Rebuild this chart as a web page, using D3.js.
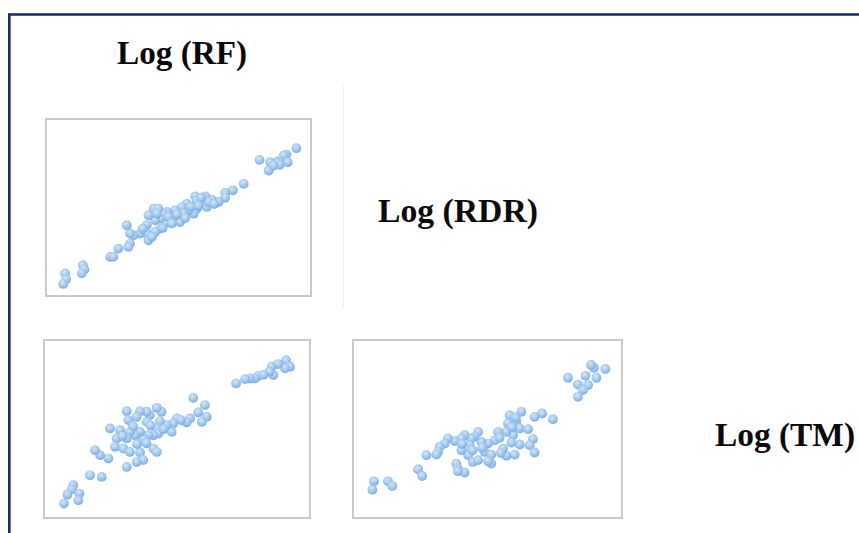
<!DOCTYPE html>
<html>
<head>
<meta charset="utf-8">
<script src="https://cdn.jsdelivr.net/npm/d3@7"></script>
<style>
  html, body { margin: 0; padding: 0; background: #ffffff; }
  svg { display: block; }
</style>
</head>
<body>
<svg id="chart" width="859" height="533"></svg>
<script>
// Variable names shown on the diagonal of the scatterplot matrix
const variables = ["Log (RF)", "Log (RDR)", "Log (TM)"];

// Log(RF) vs Log(RDR)  — [x, y] on a 0–100 scaled axis
const rfRdr = [
  [94.5,83.5],[90.7,79.9],[89.7,79.4],[91.2,75.6],[87.8,76.5],[86.9,75.6],[84.6,75.6],
  [84.0,70.9],[88.2,74.1],[85.9,73.7],[80.6,76.9],[74.6,63.4],[70.5,59.7],[67.6,58.2],
  [67.6,55.5],[65.1,53.1],[62.6,54.4],[60.1,56.3],[59.4,54.0],[56.3,56.3],[58.2,52.2],
  [60.7,50.3],[56.9,49.3],[55.7,46.5],[53.1,52.2],[53.8,48.4],[51.3,50.3],[51.9,46.5],
  [50.6,41.8],[48.1,44.7],[48.7,48.4],[46.9,42.8],[45.6,47.5],[44.3,46.5],[45.0,40.9],
  [43.1,43.7],[41.2,42.8],[43.1,38.1],[41.2,36.2],[40.6,49.3],[42.4,49.3],[38.7,45.6],
  [38.0,40.0],[38.0,35.3],[38.7,31.5],[35.5,35.3],[33.0,34.3],[31.7,35.3],[30.5,40.0],
  [31.7,29.6],[31.1,27.8],[27.3,26.8],[24.2,22.1],[25.4,22.1],[13.9,17.4],[14.5,15.0],
  [13.5,12.8],[7.2,12.8],[7.6,9.4],[6.5,6.8],[46.2,44.7],[56.9,54.0],[61.3,53.1],
  [41.8,46.5],[54.5,50.5],[49.5,46.0],[58.5,55.5],[63.5,52.0],[47.5,41.0],[44.0,38.5],
  [52.5,44.0],[36.5,38.0],[40.0,33.5],[57.5,51.0]
];

// Log(RF) vs Log(TM)
const rfTm = [
  [91.0,88.7],[92.5,85.0],[90.6,84.1],[85.6,85.0],[86.2,80.3],[84.7,82.2],[80.6,79.9],
  [79.3,78.4],[77.4,78.4],[75.6,78.0],[72.2,75.6],[56.1,67.5],[60.5,63.4],[58.0,59.3],
  [61.2,56.8],[59.3,54.0],[54.9,55.9],[53.6,53.7],[49.9,55.9],[48.6,53.1],[48.0,48.4],
  [46.1,52.2],[44.2,59.7],[42.4,61.9],[43.6,54.4],[42.4,50.3],[43.0,47.5],[41.1,46.5],
  [39.8,57.8],[38.6,59.7],[38.6,54.0],[36.1,60.0],[34.8,56.8],[31.1,60.0],[31.7,55.0],
  [39.2,46.5],[37.3,44.7],[36.1,48.4],[34.2,46.5],[32.3,48.4],[31.1,44.7],[28.6,49.3],
  [27.3,44.7],[24.8,50.3],[26.7,40.0],[29.8,39.0],[32.3,37.1],[36.1,36.8],[41.1,39.0],
  [42.4,37.1],[37.3,32.5],[34.8,31.5],[31.1,28.7],[24.2,33.4],[21.1,35.3],[19.2,38.1],
  [17.3,24.0],[21.7,23.1],[11.0,18.4],[10.4,16.1],[8.8,13.1],[13.3,13.7],[12.9,9.9],
  [7.5,8.1],[51.5,55.0],[45.0,50.0],[40.0,52.0],[33.5,51.5],[29.5,46.0],[35.0,41.5],
  [38.5,42.0],[82.5,80.5],[88.0,86.5]
];

// Log(RDR) vs Log(TM)
const rdrTm = [
  [89.6,84.4],[93.8,83.7],[86.4,79.9],[90.5,78.8],[79.9,78.8],[83.6,75.0],[87.4,74.7],
  [85.5,71.9],[83.6,68.1],[74.3,55.5],[70.3,58.7],[67.5,56.8],[62.6,59.7],[58.2,57.8],
  [57.6,53.1],[60.7,54.4],[62.0,50.3],[65.1,49.9],[59.5,46.5],[57.0,48.4],[66.9,44.3],
  [65.7,40.9],[67.5,36.8],[62.0,41.3],[58.9,42.4],[60.1,35.6],[57.0,34.9],[55.8,39.0],
  [53.9,48.4],[52.7,43.7],[50.2,41.8],[48.9,37.1],[51.4,35.6],[51.4,30.6],[50.2,31.9],
  [47.7,42.8],[46.5,48.4],[45.2,45.6],[44.0,44.7],[43.4,40.9],[41.5,46.5],[40.3,44.7],
  [42.1,39.0],[42.8,35.3],[44.6,31.5],[46.5,32.5],[40.3,38.1],[37.8,43.2],[35.3,44.7],
  [34.1,41.8],[32.2,40.0],[31.6,37.1],[31.0,35.6],[27.3,35.3],[38.4,30.6],[39.0,27.8],
  [41.5,25.5],[39.0,26.3],[24.2,27.4],[25.7,23.6],[13.0,20.6],[14.6,18.0],[7.8,20.6],
  [7.2,15.9],[88.5,86.0],[59.0,51.0],[54.5,45.0],[44.5,38.0],[48.0,39.5],[55.0,36.5],
  [60.5,56.5],[40.5,41.5]
];

const svg = d3.select("#chart");

// Soft sphere-like fill for the markers
const defs = svg.append("defs");
const grad = defs.append("radialGradient")
  .attr("id", "dotFill").attr("cx", "42%").attr("cy", "35%").attr("r", "68%");
grad.append("stop").attr("offset", "0%").attr("stop-color", "#d4e7f9");
grad.append("stop").attr("offset", "55%").attr("stop-color", "#a2c7ee");
grad.append("stop").attr("offset", "100%").attr("stop-color", "#74abe0");
defs.append("filter").attr("id", "soft")
  .append("feGaussianBlur").attr("stdDeviation", 0.4);

// Frame lines along the top and left of the figure
svg.append("line").attr("x1", 9).attr("x2", 859).attr("y1", 14.5).attr("y2", 14.5)
  .attr("stroke", "#132a6b").attr("stroke-width", 2.6);
svg.append("line").attr("x1", 9.3).attr("x2", 9.3).attr("y1", 13.2).attr("y2", 533)
  .attr("stroke", "#132a6b").attr("stroke-width", 2.6);

// Faint separator beside the first panel
svg.append("line").attr("x1", 343.5).attr("x2", 343.5).attr("y1", 85).attr("y2", 308)
  .attr("stroke", "#f1f1f1").attr("stroke-width", 1);

// Diagonal labels
const labelPos = [
  { x: 117, y: 64 },
  { x: 378, y: 222 },
  { x: 715, y: 446 }
];
svg.selectAll("text.varname")
  .data(variables)
  .join("text")
  .attr("class", "varname")
  .attr("x", (d, i) => labelPos[i].x)
  .attr("y", (d, i) => labelPos[i].y)
  .attr("font-family", "'Liberation Serif', 'Times New Roman', serif")
  .attr("font-weight", "bold")
  .attr("font-size", 34)
  .attr("fill", "#0a0a0a")
  .attr("textLength", (d, i) => [130, 160, 140][i])
  .attr("lengthAdjust", "spacingAndGlyphs")
  .text(d => d);

// Scatter panels of the lower triangle
const panels = [
  { data: rfRdr, x0: 46, y0: 119, x1: 311, y1: 296 },
  { data: rfTm,  x0: 44, y0: 340, x1: 310, y1: 518 },
  { data: rdrTm, x0: 353, y0: 340, x1: 622, y1: 518 }
];

panels.forEach(p => {
  const g = svg.append("g");
  g.append("rect")
    .attr("x", p.x0).attr("y", p.y0)
    .attr("width", p.x1 - p.x0).attr("height", p.y1 - p.y0)
    .attr("fill", "#fff").attr("stroke", "#c9c9c9").attr("stroke-width", 2);

  const x = d3.scaleLinear().domain([0, 100]).range([p.x0, p.x1]);
  const y = d3.scaleLinear().domain([0, 100]).range([p.y1, p.y0]);

  g.append("g").attr("filter", "url(#soft)")
    .selectAll("circle")
    .data(p.data)
    .join("circle")
    .attr("cx", d => x(d[0]))
    .attr("cy", d => y(d[1]))
    .attr("r", 4.9)
    .attr("fill", "url(#dotFill)");
});
</script>
</body>
</html>
